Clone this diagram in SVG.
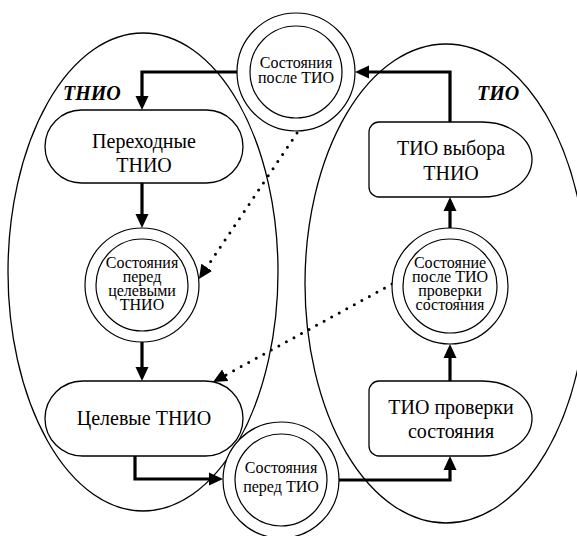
<svg xmlns="http://www.w3.org/2000/svg" width="577" height="536" viewBox="0 0 577 536">
<defs>
<style>
.ell{fill:none;stroke:#000;stroke-width:1.3}
.box{fill:#fff;stroke:#000;stroke-width:1.3}
.circ{fill:#fff;stroke:#000;stroke-width:1.2}
text{font-family:'Liberation Serif','Times New Roman',serif;fill:#000}
.t{text-anchor:middle}
.big{font-size:20px}
.sm{font-size:16px}
.lab{font-size:20px;font-weight:bold;font-style:italic}
.thick{fill:none;stroke:#000;stroke-width:3.2;marker-end:url(#ah)}
.dot{fill:none;stroke:#000;stroke-width:3;stroke-linecap:round;stroke-dasharray:0 8.6;marker-end:url(#ah)}
</style>
<marker id="ah" markerUnits="userSpaceOnUse" markerWidth="15" markerHeight="14" refX="6" refY="7" orient="auto">
<path d="M0,0.5 L14,7 L0,13.5 z" fill="#000"/>
</marker>
</defs>
<rect width="577" height="536" fill="#fff"/>
<g id="regions">
<ellipse class="ell" cx="143" cy="272" rx="135" ry="239"/>
<ellipse class="ell" cx="446" cy="283.5" rx="141" ry="239.5"/>
<text class="lab" x="63" y="100">ТНИО</text>
<text class="lab" x="477" y="100">ТИО</text>
</g>
<g id="connectors">
<path class="thick" d="M237,72 H142 V102"/>
<path class="thick" d="M142,183 V220"/>
<path class="thick" d="M142,342 V373"/>
<path class="thick" d="M135,456 V479 H215"/>
<path class="thick" d="M339,480 H450 V464"/>
<path class="thick" d="M450,381 V352"/>
<path class="thick" d="M450,228 V205"/>
<path class="thick" d="M450,122 V72 H363"/>
<path class="dot" d="M297,133 L203.4,272.3"/>
<path class="dot" d="M392,284 L220,378.2"/>
</g>
<g id="n_posle_tio">
<circle class="circ" cx="296" cy="72" r="59"/>
<circle class="circ" cx="296" cy="72" r="46"/>
<text class="t sm" x="296" y="68">Состояния</text>
<text class="t sm" x="296" y="83">после ТИО</text>
</g>
<g id="n_perehodnye">
<rect class="box" x="45" y="110" width="198" height="73" rx="36.5"/>
<text class="t big" x="144" y="148">Переходные</text>
<text class="t big" x="144" y="172">ТНИО</text>
</g>
<g id="n_pered_celevymi">
<circle class="circ" cx="142" cy="285" r="57"/>
<circle class="circ" cx="142" cy="285" r="46"/>
<text class="t sm" x="142" y="268">Состояния</text>
<text class="t sm" x="142" y="282">перед</text>
<text class="t sm" x="142" y="296">целевыми</text>
<text class="t sm" x="142" y="310">ТНИО</text>
</g>
<g id="n_celevye">
<rect class="box" x="45" y="381" width="198" height="75" rx="37.5"/>
<text class="t big" x="144" y="425">Целевые ТНИО</text>
</g>
<g id="n_pered_tio">
<circle class="circ" cx="281" cy="480" r="58"/>
<circle class="circ" cx="281" cy="480" r="46"/>
<text class="t sm" x="281" y="473">Состояния</text>
<text class="t sm" x="281" y="492">перед ТИО</text>
</g>
<g id="n_tio_proverki">
<path class="box" d="M379,381 H482 A50,37.5 0 0 1 482,456 H379 A10,10 0 0 1 369,446 V391 A10,10 0 0 1 379,381 Z"/>
<text class="t big" x="451" y="414">ТИО проверки</text>
<text class="t big" x="451" y="438">состояния</text>
</g>
<g id="n_posle_proverki">
<circle class="circ" cx="450" cy="286" r="58"/>
<circle class="circ" cx="450" cy="286" r="47"/>
<text class="t sm" x="450" y="268">Состояние</text>
<text class="t sm" x="450" y="282">после ТИО</text>
<text class="t sm" x="450" y="296">проверки</text>
<text class="t sm" x="450" y="310">состояния</text>
</g>
<g id="n_tio_vybora">
<path class="box" d="M379,122 H482 A50,37.5 0 0 1 482,197 H379 A10,10 0 0 1 369,187 V132 A10,10 0 0 1 379,122 Z"/>
<text class="t big" x="451" y="155">ТИО выбора</text>
<text class="t big" x="451" y="180">ТНИО</text>
</g>
</svg>
